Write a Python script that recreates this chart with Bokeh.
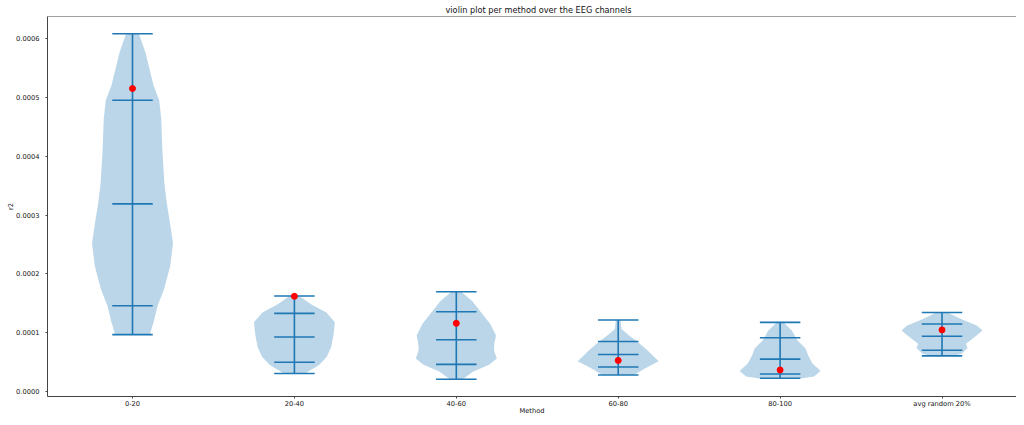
from bokeh.plotting import figure
from bokeh.models import Range1d, FixedTicker, Span
from bokeh.embed import file_html
from bokeh.resources import INLINE

# ---- data ----
methods = ["0-20", "20-40", "40-60", "60-80", "80-100", "avg random 20%"]
positions = [1, 2, 3, 4, 5, 6]

mins = [0.97e-4, 0.31e-4, 0.212e-4, 0.285e-4, 0.229e-4, 0.608e-4]
maxs = [6.08e-4, 1.625e-4, 1.697e-4, 1.217e-4, 1.178e-4, 1.345e-4]
q_low = [1.46e-4, 0.50e-4, 0.464e-4, 0.419e-4, 0.302e-4, 0.704e-4]
q_mid = [3.19e-4, 0.93e-4, 0.882e-4, 0.631e-4, 0.553e-4, 0.943e-4]
q_high = [4.95e-4, 1.33e-4, 1.357e-4, 0.854e-4, 0.916e-4, 1.15e-4]
red_points = [5.15e-4, 1.62e-4, 1.161e-4, 0.531e-4, 0.369e-4, 1.05e-4]

# violin outlines: r2 level (x1e-4) and relative density (max = 1)
prof_y_1 = [6.08, 5.76, 5.20, 4.95, 4.64, 4.08, 3.52, 3.19, 2.85, 2.52, 2.13, 1.74, 1.46, 1.18, 0.97]
prof_w_1 = [0.16, 0.32, 0.52, 0.66, 0.71, 0.74, 0.79, 0.85, 0.93, 1.00, 0.93, 0.78, 0.62, 0.52, 0.43]
prof_y_2 = [1.625, 1.486, 1.345, 1.178, 0.983, 0.759, 0.592, 0.452, 0.307]
prof_w_2 = [0.12, 0.41, 0.79, 1.00, 0.97, 0.91, 0.80, 0.61, 0.25]
prof_y_3 = [1.697, 1.541, 1.357, 1.150, 0.955, 0.815, 0.704, 0.564, 0.464, 0.341, 0.212]
prof_w_3 = [0.12, 0.39, 0.60, 0.84, 0.98, 0.94, 0.93, 1.00, 0.82, 0.41, 0.16]
prof_y_4 = [1.217, 1.067, 0.955, 0.854, 0.704, 0.519, 0.402, 0.285]
prof_w_4 = [0.06, 0.08, 0.27, 0.47, 0.72, 1.00, 0.68, 0.39]
prof_y_5 = [1.178, 1.039, 0.871, 0.732, 0.620, 0.480, 0.352, 0.257, 0.229]
prof_w_5 = [0.08, 0.29, 0.43, 0.63, 0.69, 0.80, 1.00, 0.84, 0.55]
prof_y_6 = [1.345, 1.234, 1.122, 1.039, 0.927, 0.815, 0.743, 0.648, 0.608]
prof_w_6 = [0.14, 0.47, 0.87, 1.00, 0.80, 0.59, 0.63, 0.49, 0.29]

ytick_values = [0.0, 0.0001, 0.0002, 0.0003, 0.0004, 0.0005, 0.0006]
ytick_labels = ["0.0000", "0.0001", "0.0002", "0.0003", "0.0004", "0.0005", "0.0006"]

profiles_y = [prof_y_1, prof_y_2, prof_y_3, prof_y_4, prof_y_5, prof_y_6]
profiles_w = [prof_w_1, prof_w_2, prof_w_3, prof_w_4, prof_w_5, prof_w_6]

# ---- styling ----
BLUE = "#1f77b4"
FONT = "DejaVu Sans"
TEXT = "#111111"
half_width = 0.25      # violin half width (widths=0.5)
cap_half = 0.125

ymin = min(mins) - 0.05 * (max(maxs) - min(mins))
ymax = max(maxs) + 0.05 * (max(maxs) - min(mins))

p = figure(width=1016, height=417, output_backend="svg", toolbar_location=None,
           x_range=Range1d(0.475, 6.46), y_range=Range1d(ymin, ymax),
           title="violin plot per method over the EEG channels",
           min_border_left=47, min_border_right=0, min_border_top=16, min_border_bottom=0)
p.outline_line_color = None
p.background_fill_color = "white"
p.border_fill_color = "white"
p.xgrid.grid_line_color = None
p.ygrid.grid_line_color = None

p.title.text_font = FONT
p.title.text_font_size = "8.2px"
p.title.text_font_style = "normal"
p.title.text_color = TEXT
p.title.align = "left"
p.title.offset = 398
p.title.standoff = 4

# violin bodies
xs, ys = [], []
for pos, py, pw in zip(positions, profiles_y, profiles_w):
    right = [pos + w * half_width for w in pw]
    left = [pos - w * half_width for w in reversed(pw)]
    yv = [v * 1e-4 for v in py]
    xs.append(right + left)
    ys.append(yv + list(reversed(yv)))
p.patches(xs, ys, fill_color=BLUE, fill_alpha=0.3, line_color=None)

# vertical bars
p.segment(x0=positions, y0=mins, x1=positions, y1=maxs, line_color=BLUE, line_width=1.6)
# caps and quantile lines
for arr in (mins, maxs, q_low, q_mid, q_high):
    p.segment(x0=[x - cap_half for x in positions], y0=arr,
              x1=[x + cap_half for x in positions], y1=arr,
              line_color=BLUE, line_width=1.6)

# red markers
p.scatter(positions, red_points, size=6, fill_color="red", line_color="red")

# top border line (right border is cut off in the reference)
p.add_layout(Span(location=ymax, dimension="width", line_color="#444444", line_width=1))

# axes
p.xaxis.ticker = FixedTicker(ticks=positions)
p.xaxis.major_label_overrides = {pos: m for pos, m in zip(positions, methods)}
p.yaxis.ticker = FixedTicker(ticks=ytick_values)
p.yaxis.major_label_overrides = {v: l for v, l in zip(ytick_values, ytick_labels)}
p.xaxis.axis_label = "Method"
p.yaxis.axis_label = "r2"

for ax in (p.xaxis[0], p.yaxis[0]):
    ax.axis_line_color = "#444444"
    ax.axis_line_width = 1
    ax.major_tick_line_color = "#444444"
    ax.major_tick_in = 0
    ax.major_tick_out = 2
    ax.minor_tick_line_color = None
    ax.major_label_text_font = FONT
    ax.major_label_text_font_size = "6.7px"
    ax.major_label_text_color = TEXT
    ax.major_label_text_line_height = 1.0
    ax.axis_label_text_font = FONT
    ax.axis_label_text_font_size = "6.7px"
    ax.axis_label_text_font_style = "normal"
    ax.axis_label_text_color = TEXT
    ax.axis_label_text_line_height = 1.0
p.xaxis.major_label_standoff = 1
p.xaxis.axis_label_standoff = -4
p.yaxis.major_label_standoff = 6
p.yaxis.axis_label_standoff = -2

open("out.html", "w").write(file_html(p, INLINE))
